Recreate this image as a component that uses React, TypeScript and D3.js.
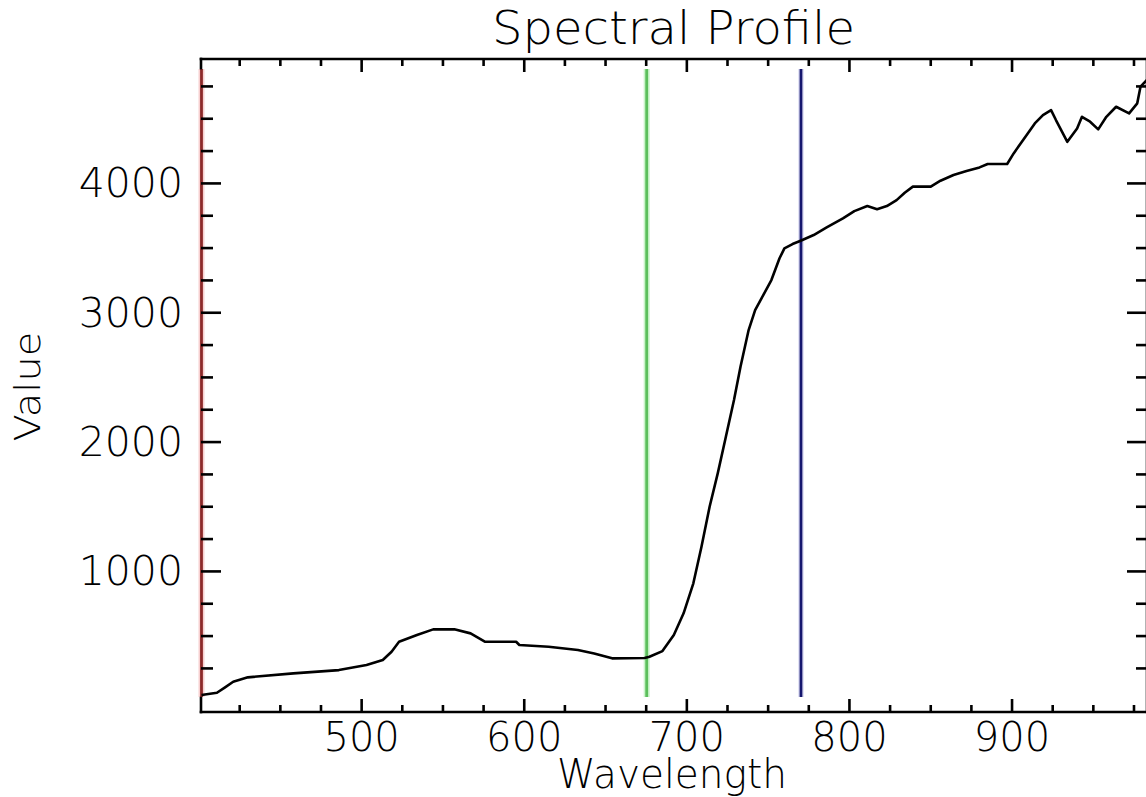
import React from "react";
import * as d3 from "d3";

const wavelengths = [
  401.5, 411, 416, 421, 430, 458, 486, 503, 513, 518.4, 523, 534, 544, 557, 567,
  576, 595, 597, 615, 633, 643, 654, 674, 677, 685, 692, 698, 704, 709, 714,
  719, 724, 729, 733, 738, 742, 747, 752, 757, 760, 765, 770, 778, 786, 796,
  803, 811, 817, 823, 829, 834, 839, 850, 856, 864, 872, 880, 885, 897, 901,
  909, 914, 919, 924, 927, 934, 940, 943, 948, 953, 958, 964, 972, 977, 979, 983,
];
const values = [
  44, 62, 104, 147, 181, 212, 237, 276, 315, 379, 456, 508, 552, 552, 521,
  456, 456, 431, 418, 392, 366, 328, 330, 340, 384, 508, 676, 908, 1191, 1500,
  1758, 2041, 2325, 2583, 2866, 3021, 3137, 3253, 3421, 3498, 3531, 3557, 3601, 3660, 3730,
  3786, 3825, 3800, 3825, 3871, 3928, 3975, 3975, 4021, 4065, 4096, 4124, 4150, 4150, 4232,
  4374, 4464, 4528, 4567, 4490, 4322, 4425, 4515, 4477, 4418, 4515, 4593, 4542, 4619, 4748, 4800,
];

const markerWavelengths = [401.5, 675.3, 770.2];
const markerColors = ["#8c2a2a", "#5cbf5c", "#15166e"];
const markerHalos = ["#f7d0d0", "#c9f3c9", "#e2e2f6"];
const markerRange = [29, 4884];

const xMajorTicks = [500, 600, 700, 800, 900];
const xMinorTicks = d3.range(425, 976, 25).filter((t) => t % 100 !== 0);
const yMajorTicks = [1000, 2000, 3000, 4000];
const yMinorTicks = d3.range(250, 4751, 250).filter((t) => t % 1000 !== 0);

const titleText = "Spectral Profile";
const xTitle = "Wavelength";
const yTitle = "Value";

const W = 1146;
const H = 797;
const left = 201;
const right = 1147;
const top = 59;
const bottom = 712;

const FONT = "'DejaVu Sans', 'Liberation Sans', sans-serif";

export default function App() {
  const x = d3.scaleLinear().domain([401.2, 983]).range([left, right]);
  const y = d3.scaleLinear().domain([-87, 4962]).range([bottom, top]);

  const line = d3
    .line<number>()
    .x((_, i) => x(wavelengths[i]))
    .y((v) => y(v));

  const sw = 2.6;

  return (
    <svg
      width={W}
      height={H}
      style={{ position: "absolute", left: 0, top: 0, background: "#fff" }}
    >
      <rect x={0} y={0} width={W} height={H} fill="#fff" />

      {/* marker lines */}
      {markerWavelengths.map((w, i) => (
        <g key={"m" + i}>
          <line
            x1={x(w)}
            x2={x(w)}
            y1={y(markerRange[0])}
            y2={y(markerRange[1])}
            stroke={markerHalos[i]}
            strokeWidth={6}
          />
          <line
            x1={x(w)}
            x2={x(w)}
            y1={y(markerRange[0])}
            y2={y(markerRange[1])}
            stroke={markerColors[i]}
            strokeWidth={2.8}
          />
        </g>
      ))}

      {/* curve */}
      <path
        d={line(values) || ""}
        fill="none"
        stroke="#000"
        strokeWidth={2.6}
        strokeLinejoin="round"
      />

      {/* axes box */}
      <g stroke="#000" strokeWidth={sw} strokeLinecap="square">
        <line x1={left} x2={right} y1={bottom} y2={bottom} />
        <line x1={left} x2={right} y1={top} y2={top} />
        <line x1={left} x2={left} y1={top} y2={y(markerRange[1]) - 1} />
        <line x1={left} x2={left} y1={y(markerRange[0]) + 1} y2={bottom} />
        <line x1={right} x2={right} y1={top} y2={bottom} />
      </g>

      {/* ticks */}
      <g stroke="#000" strokeWidth={sw}>
        {xMajorTicks.map((t) => (
          <g key={"xM" + t}>
            <line x1={x(t)} x2={x(t)} y1={bottom} y2={bottom - 13} />
            <line x1={x(t)} x2={x(t)} y1={top} y2={top + 13} />
          </g>
        ))}
        {xMinorTicks.map((t) => (
          <g key={"xm" + t}>
            <line x1={x(t)} x2={x(t)} y1={bottom} y2={bottom - 7} />
            <line x1={x(t)} x2={x(t)} y1={top} y2={top + 7} />
          </g>
        ))}
        {yMajorTicks.map((t) => (
          <g key={"yM" + t}>
            <line x1={left} x2={left + 20} y1={y(t)} y2={y(t)} />
            <line x1={right} x2={right - 20} y1={y(t)} y2={y(t)} />
          </g>
        ))}
        {yMinorTicks.map((t) => (
          <g key={"ym" + t}>
            <line x1={left} x2={left + 12} y1={y(t)} y2={y(t)} />
            <line x1={right} x2={right - 11} y1={y(t)} y2={y(t)} />
          </g>
        ))}
      </g>

      {/* labels */}
      <g fontFamily={FONT} fontWeight={200} fill="#000">
        {xMajorTicks.map((t) => (
          <text key={"xl" + t} x={x(t)} y={751} fontSize={40} textAnchor="middle">
            {t}
          </text>
        ))}
        {yMajorTicks.map((t) => (
          <text
            key={"yl" + t}
            x={183}
            y={y(t) + 14}
            fontSize={41}
            textAnchor="end"
          >
            {t}
          </text>
        ))}
        <text
          x={673.5}
          y={44}
          fontSize={47}
          textAnchor="middle"
          textLength={363}
          lengthAdjust="spacingAndGlyphs"
        >
          {titleText}
        </text>
        <text
          x={672}
          y={788}
          fontSize={40}
          textAnchor="middle"
          textLength={230}
          lengthAdjust="spacingAndGlyphs"
        >
          {xTitle}
        </text>
        <text
          transform={`translate(40, ${(top + bottom) / 2 + 1}) rotate(-90)`}
          fontSize={35}
          textAnchor="middle"
          textLength={110}
          lengthAdjust="spacingAndGlyphs"
        >
          {yTitle}
        </text>
      </g>
    </svg>
  );
}
